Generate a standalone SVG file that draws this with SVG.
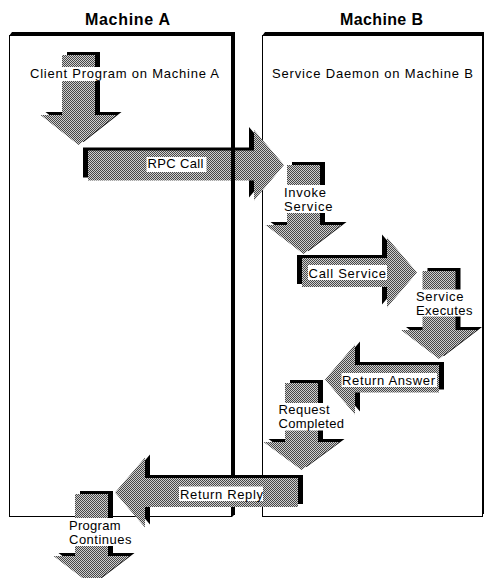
<svg xmlns="http://www.w3.org/2000/svg" width="484" height="578" viewBox="0 0 484 578">
  <style>
    .frame { fill: #fff; stroke: #000; stroke-width: 1; }
    .drop { fill: #000; }
    .body { fill: url(#dither); }
    .bg { fill: #fff; }
    .title { font-family: "Liberation Sans", Arial, sans-serif; font-size: 16px; font-weight: bold; fill: #000; }
    .label { font-family: "Liberation Sans", Arial, sans-serif; font-size: 13px; fill: #000; }
  </style>
  <defs>
    <!-- 50% checkerboard fill used by every arrow -->
    <pattern id="dither" width="2" height="2" patternUnits="userSpaceOnUse">
      <rect width="2" height="2" fill="#cfcfcf"/>
      <rect width="1" height="1" fill="#474747"/>
      <rect x="1" y="1" width="1" height="1" fill="#474747"/>
    </pattern>
  </defs>

  <!-- machine frames -->
  <g id="machine-b">
    <text class="title" x="340" y="25" textLength="83" lengthAdjust="spacing">Machine B</text>
    <polygon class="drop" points="262,36 265,32 488,32 488,514 262,514"/>
    <rect class="frame" x="262.5" y="35.5" width="220" height="481"/>
    <text class="label" x="272" y="78" textLength="201" lengthAdjust="spacing">Service Daemon on Machine B</text>
  </g>
  <g id="machine-a">
    <text class="title" x="85" y="25" textLength="85" lengthAdjust="spacing">Machine A</text>
    <polygon class="drop" points="9,36 12,32 235,32 235,514 232,517 9,517"/>
    <rect class="frame" x="9.5" y="35.5" width="222" height="481"/>
  </g>

  <!-- client program step -->
  <g id="client-program">
    <polygon class="drop" transform="translate(5,-3)" points="62,55 95,55 95,115 116.5,115 78.5,145 40.5,115 62,115"/>
    <polygon class="body" points="62,55 95,55 95,115 116.5,115 78.5,145 40.5,115 62,115"/>
    <rect class="bg" x="28" y="67" width="194" height="14"/>
    <text class="label" x="30" y="78" textLength="189" lengthAdjust="spacing">Client Program on Machine A</text>
  </g>

  <g id="connectors">
    <!-- request travelling from A to B -->
    <g id="rpc-call">
      <polygon class="drop" transform="translate(-5,-3)" points="88,150.5 254,150.5 254,130 284,165 254,200.5 254,180.5 88,180.5"/>
      <polygon class="body" points="88,150.5 254,150.5 254,130 284,165 254,200.5 254,180.5 88,180.5"/>
      <rect class="bg" x="146.5" y="157" width="60" height="15"/>
      <text class="label" x="147.5" y="168" textLength="56" lengthAdjust="spacing">RPC Call</text>
    </g>
    <!-- right edge of machine A passes over the outgoing call -->
    <rect id="machine-a-edge" class="drop" x="231" y="32" width="4" height="483"/>

    <g id="call-service">
      <polygon class="drop" transform="translate(-5,-3)" points="302,258 387,258 387,237.5 417,272.5 387,307.5 387,287 302,287"/>
      <polygon class="body" points="302,258 387,258 387,237.5 417,272.5 387,307.5 387,287 302,287"/>
      <rect class="bg" x="308" y="265" width="79" height="15"/>
      <text class="label" x="308.5" y="278" textLength="77.5" lengthAdjust="spacing">Call Service</text>
    </g>

    <g id="return-answer">
      <polygon class="drop" transform="translate(5,-3)" points="439,365 355,365 355,344.5 325,379.5 355,414.5 355,392.5 439,392.5"/>
      <polygon class="body" points="439,365 355,365 355,344.5 325,379.5 355,414.5 355,392.5 439,392.5"/>
      <rect class="bg" x="341.5" y="373" width="95.5" height="14"/>
      <text class="label" x="342" y="384.5" textLength="93" lengthAdjust="spacing">Return Answer</text>
    </g>

    <g id="return-reply">
      <polygon class="drop" transform="translate(5,-3)" points="298,478 145,478 145,457.5 115,492.5 145,527.5 145,507 298,507"/>
      <polygon class="body" points="298,478 145,478 145,457.5 115,492.5 145,527.5 145,507 298,507"/>
      <rect class="bg" x="179" y="486.5" width="84" height="14.5"/>
      <text class="label" x="180" y="499" textLength="83" lengthAdjust="spacing">Return Reply</text>
    </g>
  </g>

  <!-- server side steps -->
  <g id="invoke-service">
    <polygon class="drop" transform="translate(5,-3)" points="287,165 320,165 320,225 341.5,225 303.5,254 265.5,225 287,225"/>
    <polygon class="body" points="287,165 320,165 320,225 341.5,225 303.5,254 265.5,225 287,225"/>
    <rect class="bg" x="282.5" y="185" width="52" height="28"/>
    <text class="label" x="284" y="197" textLength="42" lengthAdjust="spacing">Invoke</text>
    <text class="label" x="284" y="210.5" textLength="48.5" lengthAdjust="spacing">Service</text>
  </g>

  <g id="service-executes">
    <polygon class="drop" transform="translate(5,-3)" points="422.5,271 455.5,271 455.5,330 477,330 439,359 401,330 422.5,330"/>
    <polygon class="body" points="422.5,271 455.5,271 455.5,330 477,330 439,359 401,330 422.5,330"/>
    <rect class="bg" x="414.5" y="289.5" width="59.5" height="27"/>
    <text class="label" x="416" y="301" textLength="47.5" lengthAdjust="spacing">Service</text>
    <text class="label" x="416" y="314.5" textLength="56.5" lengthAdjust="spacing">Executes</text>
  </g>

  <g id="request-completed">
    <polygon class="drop" transform="translate(5,-3)" points="285,383 318,383 318,442 339.5,442 301.5,470 263.5,442 285,442"/>
    <polygon class="body" points="285,383 318,383 318,442 339.5,442 301.5,470 263.5,442 285,442"/>
    <rect class="bg" x="277" y="403" width="68.5" height="27.5"/>
    <text class="label" x="278.5" y="414" textLength="51" lengthAdjust="spacing">Request</text>
    <text class="label" x="278.5" y="427.5" textLength="65.5" lengthAdjust="spacing">Completed</text>
  </g>

  <g id="program-continues">
    <polygon class="drop" transform="translate(5,-3)" points="75,494 108,494 108,556 129.5,556 91.5,585 53.5,556 75,556"/>
    <polygon class="body" points="75,494 108,494 108,556 129.5,556 91.5,585 53.5,556 75,556"/>
    <rect class="bg" x="67.5" y="518" width="65.5" height="28"/>
    <text class="label" x="69" y="530" textLength="51.5" lengthAdjust="spacing">Program</text>
    <text class="label" x="69" y="544" textLength="62.5" lengthAdjust="spacing">Continues</text>
  </g>
</svg>
